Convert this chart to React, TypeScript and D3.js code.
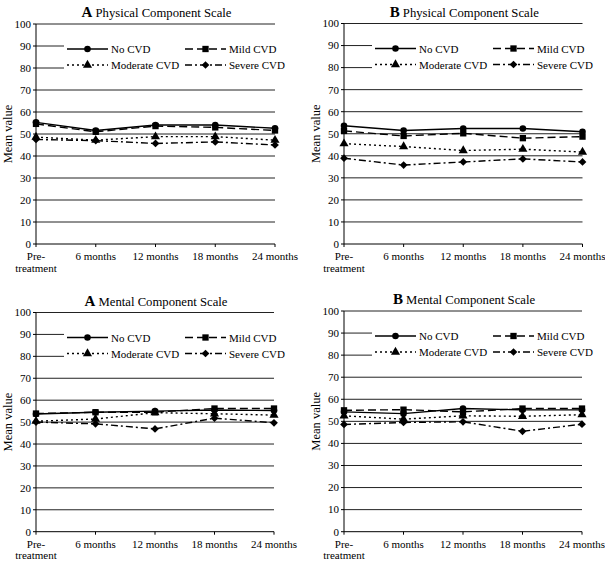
import React from "react";
import * as d3 from "d3";

const categories = ["Pre-\ntreatment", "6 months", "12 months", "18 months", "24 months"];
const yTicks = [0, 10, 20, 30, 40, 50, 60, 70, 80, 90, 100];
const seriesNames = ["No CVD", "Mild CVD", "Moderate CVD", "Severe CVD"];

// A – Physical Component Scale
const physA_noCVD = [55.3, 51.6, 54.1, 54.1, 52.6];
const physA_mild = [54.6, 51.0, 53.6, 53.0, 51.6];
const physA_moderate = [48.6, 47.2, 48.8, 48.8, 47.2];
const physA_severe = [47.5, 47.0, 45.7, 46.4, 45.0];

// B – Physical Component Scale
const physB_noCVD = [53.6, 51.5, 52.4, 52.4, 50.9];
const physB_mild = [51.3, 49.0, 50.2, 48.0, 48.7];
const physB_moderate = [45.5, 44.2, 42.4, 43.0, 41.7];
const physB_severe = [38.9, 35.8, 37.2, 38.6, 37.2];

// A – Mental Component Scale
const mentA_noCVD = [53.7, 54.5, 55.0, 55.5, 55.3];
const mentA_mild = [53.9, 54.5, 54.5, 56.2, 56.2];
const mentA_moderate = [50.4, 51.4, 54.3, 53.8, 53.2];
const mentA_severe = [50.0, 49.2, 46.9, 51.8, 49.7];

// B – Mental Component Scale
const mentB_noCVD = [54.3, 53.5, 55.8, 55.2, 55.2];
const mentB_mild = [55.0, 55.3, 54.3, 55.8, 55.8];
const mentB_moderate = [52.5, 51.0, 52.5, 52.3, 53.0];
const mentB_severe = [48.6, 49.5, 49.8, 45.5, 48.7];

const FONT = '"Liberation Serif", "DejaVu Serif", serif';
const dashes = [null, "8,4", "2,3", "7,3,2,3"];

function markerPath(i: number): { d: string; rot: number } {
  if (i === 0) return { d: d3.symbol().type(d3.symbolCircle).size(34)() as string, rot: 0 };
  if (i === 1) return { d: d3.symbol().type(d3.symbolSquare).size(40)() as string, rot: 0 };
  if (i === 2) return { d: d3.symbol().type(d3.symbolTriangle).size(36)() as string, rot: 0 };
  return { d: d3.symbol().type(d3.symbolSquare).size(30)() as string, rot: 45 };
}

function Marker({ i, x, y }: { i: number; x: number; y: number }) {
  const m = markerPath(i);
  return <path d={m.d} transform={`translate(${x},${y}) rotate(${m.rot})`} fill="#000" />;
}

type PanelProps = {
  letter: string;
  title: string;
  left: number;
  right: number;
  top: number;
  bottom: number;
  series: number[][];
};

function Panel({ letter, title, left, right, top, bottom, series }: PanelProps) {
  const x = d3.scalePoint<string>().domain(categories).range([left, right]).padding(0);
  const y = d3.scaleLinear().domain([0, 100]).range([bottom, top]);
  const line = d3
    .line<number>()
    .x((_, i) => x(categories[i]) as number)
    .y((d) => y(d));

  const legendItems = [
    { i: 0, col: 0, row: 0 },
    { i: 1, col: 1, row: 0 },
    { i: 2, col: 0, row: 1 },
    { i: 3, col: 1, row: 1 },
  ];

  return (
    <g>
      {/* title */}
      <text x={(left + right) / 2 + 1} y={top - 7} textAnchor="middle" fill="#000">
        <tspan fontWeight="bold" fontSize={15}>{letter}</tspan>
        <tspan fontSize={12.7}>{" " + title}</tspan>
      </text>

      {/* gridlines */}
      {yTicks.filter((t) => t > 0).map((t) => (
        <line key={t} x1={left} x2={right} y1={y(t)} y2={y(t)} stroke="#222" strokeWidth={1} />
      ))}

      {/* legend background */}
      <rect x={left + 28} y={top + 14} width={right - left - 10} height={36} fill="#fff" />

      {/* axes */}
      <line x1={left} x2={left} y1={top} y2={bottom} stroke="#000" strokeWidth={1} />
      <line x1={left} x2={right} y1={bottom} y2={bottom} stroke="#000" strokeWidth={1} />
      {yTicks.map((t) => (
        <g key={t}>
          <line x1={left - 3} x2={left} y1={y(t)} y2={y(t)} stroke="#000" />
          <text x={left - 5} y={y(t)} dy="0.35em" textAnchor="end" fontSize={11} fill="#000">
            {t}
          </text>
        </g>
      ))}
      {categories.map((c) => (
        <g key={c}>
          <line x1={x(c)} x2={x(c)} y1={bottom} y2={bottom + 3} stroke="#000" />
          {c.split("\n").map((s, k) => (
            <text key={k} x={x(c)} y={bottom + 16 + k * 11.5} textAnchor="middle" fontSize={11} fill="#000">
              {s}
            </text>
          ))}
        </g>
      ))}

      {/* y label */}
      <text
        transform={`translate(${left - 24},${(top + bottom) / 2}) rotate(-90)`}
        textAnchor="middle"
        fontSize={12.5}
        fill="#000"
      >
        Mean value
      </text>

      {/* series lines */}
      {series.map((s, i) => (
        <path
          key={i}
          d={line(s) as string}
          fill="none"
          stroke="#000"
          strokeWidth={1.4}
          strokeDasharray={dashes[i] ?? undefined}
        />
      ))}
      {series.map((s, i) =>
        s.map((v, j) => <Marker key={`${i}-${j}`} i={i} x={x(categories[j]) as number} y={y(v)} />)
      )}

      {/* legend */}
      {legendItems.map(({ i, col, row }) => {
        const x0 = left + 31 + col * 118;
        const x1 = x0 + 41;
        const ly = top + 25 + row * 16;
        return (
          <g key={i}>
            <line x1={x0} x2={x1} y1={ly} y2={ly} stroke="#000" strokeWidth={1.4} strokeDasharray={dashes[i] ?? undefined} />
            <Marker i={i} x={(x0 + x1) / 2} y={ly} />
            <text x={x1 + 3} y={ly + 4} fontSize={11} fill="#000">
              {seriesNames[i]}
            </text>
          </g>
        );
      })}
    </g>
  );
}

export default function App() {
  return (
    <svg
      width={605}
      height={562}
      style={{ position: "absolute", left: 0, top: 0, background: "#fff", fontFamily: FONT }}
    >
      <rect width={605} height={562} fill="#fff" />
      <Panel letter="A" title="Physical Component Scale" left={36} right={275} top={24} bottom={244}
        series={[physA_noCVD, physA_mild, physA_moderate, physA_severe]} />
      <Panel letter="B" title="Physical Component Scale" left={344} right={582.5} top={23.5} bottom={244}
        series={[physB_noCVD, physB_mild, physB_moderate, physB_severe]} />
      <Panel letter="A" title="Mental Component Scale" left={36} right={274} top={312.5} bottom={531.7}
        series={[mentA_noCVD, mentA_mild, mentA_moderate, mentA_severe]} />
      <Panel letter="B" title="Mental Component Scale" left={344} right={582} top={311} bottom={531.7}
        series={[mentB_noCVD, mentB_mild, mentB_moderate, mentB_severe]} />
    </svg>
  );
}
